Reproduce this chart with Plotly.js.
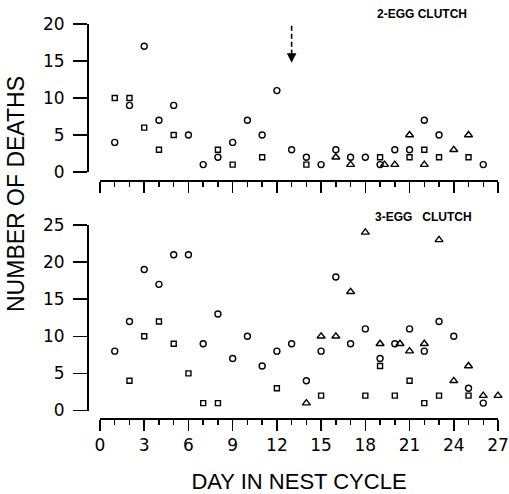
<!DOCTYPE html>
<html>
<head>
<meta charset="utf-8">
<script src="https://cdn.plot.ly/plotly-3.0.1.min.js"></script>
<style>html,body{margin:0;padding:0;background:#fff}#chart{width:509px;height:494px}</style>
</head>
<body>
<div id="chart"></div>
<script>
// 2-egg clutch (top panel)
var circ2X = [1,2,3,4,5,6,7,8,9,10,11,12,13,14,15,16,17,18,19,20,21,22,23,26];
var circ2Y = [4,9,17,7,9,5,1,2,4,7,5,11,3,2,1,3,2,2,1,3,3,7,5,1];
var sq2X = [1,2,3,4,5,8,9,11,14,19,21,22,23,25];
var sq2Y = [10,10,6,3,5,3,1,2,1,2,2,3,2,2];
var tri2X = [16,17,19.3,20,21,22,24,25];
var tri2Y = [2,1,1,1,5,1,3,5];

// 3-egg clutch (bottom panel)
var circ3X = [1,2,3,4,5,6,7,8,9,10,11,12,13,14,15,16,17,18,19,20,21,22,23,24,25,26];
var circ3Y = [8,12,19,17,21,21,9,13,7,10,6,8,9,4,8,18,9,11,7,9,11,8,12,10,3,1];
var sq3X = [2,3,4,5,6,7,8,12,15,18,19,20,21,22,23,25];
var sq3Y = [4,10,12,9,5,1,1,3,2,2,6,2,4,1,2,2];
var tri3X = [14,15,16,17,18,19,20.35,21,22,23,24,25,26,27];
var tri3Y = [1,10,10,16,24,9,9,8,9,23,4,6,2,2];

var xTicks = [0,3,6,9,12,15,18,21,24,27];
var arrowDay = 13;

function tr(x, y, sym, size, xa, ya) {
  return {x: x, y: y, type: 'scatter', mode: 'markers', xaxis: xa, yaxis: ya,
    cliponaxis: false, hoverinfo: 'skip',
    marker: {symbol: sym, size: size, color: '#000', line: {color: '#000', width: 1.4}}};
}

var data = [
  tr(circ2X, circ2Y, 'circle-open', 6, 'x', 'y'),
  tr(sq2X, sq2Y, 'square-open', 5, 'x', 'y'),
  tr(tri2X, tri2Y, 'triangle-up-open', 7, 'x', 'y'),
  tr(circ3X, circ3Y, 'circle-open', 6, 'x2', 'y2'),
  tr(sq3X, sq3Y, 'square-open', 5, 'x2', 'y2'),
  tr(tri3X, tri3Y, 'triangle-up-open', 7, 'x2', 'y2')
];

var tickFont = {family: 'DejaVu Sans, Liberation Sans, sans-serif', size: 17, color: '#000'};
var L = 88, W = 410, B = 419, H = 395;
function px(v) { return (v - L) / W; }
function py(v) { return (B - v) / H; }

function xax(pos, labels) {
  return {domain: [px(100), 1], range: [0, 27], anchor: 'free', position: pos,
    showline: true, linewidth: 2, linecolor: '#000', showgrid: false, zeroline: false,
    tickmode: 'array', tickvals: xTicks, ticktext: xTicks.map(String),
    ticks: 'outside', ticklen: 11, tickwidth: 1.6, tickcolor: '#000',
    showticklabels: labels, tickfont: tickFont,
    minor: {dtick: 1, tick0: 0, ticks: 'outside', ticklen: 5, tickwidth: 1.5, tickcolor: '#000', showgrid: false}
  };
}
function yax(dom, rng) {
  return {domain: dom, range: rng, anchor: 'free', position: 0,
    showline: true, linewidth: 2, linecolor: '#000', showgrid: false, zeroline: false,
    dtick: 5, tick0: 0, ticks: 'outside', ticklen: 14, tickwidth: 1.6, tickcolor: '#000',
    tickfont: tickFont, ticklabelstandoff: 5};
}

var x2 = xax(0, true);
x2.title = {text: 'DAY IN NEST CYCLE', font: {family: 'Liberation Sans, Arial, sans-serif', size: 22, color: '#000'}, standoff: 19};

var layout = {
  width: 509, height: 494,
  margin: {l: L, r: 509 - L - W, t: B - H, b: 494 - B, pad: 0},
  paper_bgcolor: '#fff', plot_bgcolor: 'rgba(0,0,0,0)',
  showlegend: false,
  xaxis: xax(py(181), false),
  yaxis: yax([py(172), 1], [0, 20]),
  xaxis2: x2,
  yaxis2: yax([py(410.5), py(225)], [0, 25]),
  shapes: [
    {type: 'line', xref: 'x', yref: 'y', x0: arrowDay, x1: arrowDay, y0: 19.75, y1: 16.4,
     line: {color: '#000', width: 1.6, dash: '5px,3px'}}
  ],
  annotations: [
    {x: arrowDay, y: 14.75, xref: 'x', yref: 'y', text: '', showarrow: true, ax: 0, ay: -14,
     arrowhead: 2, arrowsize: 1.2, arrowwidth: 1.6, arrowcolor: '#000'},
    {x: px(15.5), y: py(194.5), xref: 'paper', yref: 'paper', text: 'NUMBER OF DEATHS', textangle: -90,
     showarrow: false, xanchor: 'center', yanchor: 'middle',
     font: {family: 'Liberation Sans, Arial, sans-serif', size: 23, color: '#000'}},
    {x: px(422), y: py(14), xref: 'paper', yref: 'paper', text: '2-EGG CLUTCH', showarrow: false,
     xanchor: 'center', yanchor: 'middle',
     font: {family: 'Liberation Sans, Arial, sans-serif', size: 12, color: '#000', weight: 'bold'}},
    {x: px(423), y: py(217), xref: 'paper', yref: 'paper', text: '3-EGG\u00a0\u00a0\u00a0CLUTCH', showarrow: false,
     xanchor: 'center', yanchor: 'middle',
     font: {family: 'Liberation Sans, Arial, sans-serif', size: 12, color: '#000', weight: 'bold'}}
  ]
};

Plotly.newPlot('chart', data, layout, {staticPlot: true, displayModeBar: false});
</script>
</body>
</html>
